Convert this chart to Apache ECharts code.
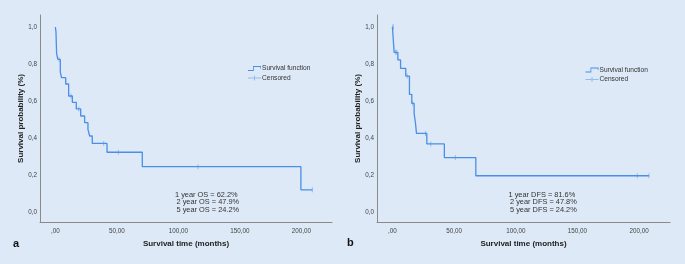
<!DOCTYPE html>
<html>
<head>
<meta charset="utf-8">
<script src="https://cdn.jsdelivr.net/npm/echarts@6/dist/echarts.min.js"></script>
<style>
  html, body { margin: 0; padding: 0; background: #dde9f7; }
  #main { width: 685px; height: 264px; }
</style>
</head>
<body>
<div id="main"></div>
<script>
// panel a: overall survival (step points: time, survival after the drop)
var osTime = [0, 0.5, 1, 2, 4, 5, 8.4, 10.8, 13.8, 17, 20.6, 23.8, 26.5, 27.9, 30, 42, 70.7, 199.7, 209];
var osSurv = [1, 0.973, 0.858, 0.825, 0.758, 0.726, 0.692, 0.627, 0.593, 0.557, 0.519, 0.483, 0.447, 0.411, 0.371, 0.323, 0.245, 0.12, 0.12];
var osCensor = [3, 12.7, 19, 39.3, 51.2, 116, 209];
var osText = ['1 year OS = 62.2%', '2 year OS = 47.9%', '5 year OS = 24.2%'];

// panel b: disease free survival
var dfsTime = [0, 1.4, 4.4, 6.6, 10.8, 13.8, 15.7, 17.6, 18.7, 19.5, 27.9, 42.1, 67.6, 208];
var dfsSurv = [1, 0.863, 0.822, 0.777, 0.735, 0.636, 0.587, 0.533, 0.48, 0.425, 0.368, 0.294, 0.196, 0.196];
var dfsCensor = [0.3, 0.8, 2.5, 3.4, 12, 16.5, 26.8, 31.1, 51, 198.5, 208];
var dfsText = ['1 year DFS = 81.6%', '2 year DFS = 47.8%', '5 year DFS = 24.2%'];

var xTicks = [0, 50, 100, 150, 200];
var yTicks = [0, 0.2, 0.4, 0.6, 0.8, 1.0];

var lineColor = '#4a8ee6';
var censorColor = '#7fb0ee';
var font = 'Liberation Sans';

function stepPoints(t, s) {
    return t.map(function (v, i) { return [v, s[i]]; });
}
// survival value of the step curve at a censored time
function censorPoints(cens, t, s) {
    return cens.map(function (c) {
        var v = s[0];
        for (var i = 0; i < t.length; i++) {
            if (t[i] <= c) v = s[i];
        }
        return [c, v];
    });
}

function xAxisOf(idx) {
    return {
        gridIndex: idx,
        type: 'value',
        min: -12.5,
        max: 225,
        name: 'Survival time (months)',
        nameLocation: 'middle',
        nameGap: 18,
        nameTextStyle: { color: '#222', fontWeight: 'bold', fontSize: 8, fontFamily: font },
        axisLine: { onZero: false, lineStyle: { color: '#8a8a8a', width: 1 } },
        axisTick: { show: false },
        splitLine: { show: false },
        axisLabel: {
            customValues: xTicks,
            color: '#444',
            fontSize: 6.3,
            margin: 6,
            fontFamily: font,
            formatter: function (v) { return v === 0 ? ',00' : v.toFixed(2).replace('.', ','); }
        }
    };
}
function yAxisOf(idx) {
    return {
        gridIndex: idx,
        type: 'value',
        min: -0.054,
        max: 1.065,
        name: 'Survival probability (%)',
        nameLocation: 'middle',
        nameGap: 15,
        nameTextStyle: { color: '#222', fontWeight: 'bold', fontSize: 8, fontFamily: font },
        axisLine: { show: true, onZero: false, lineStyle: { color: '#8a8a8a', width: 1 } },
        axisTick: { show: false },
        splitLine: { show: false },
        axisLabel: {
            customValues: yTicks,
            color: '#444',
            fontSize: 6.3,
            margin: 3,
            fontFamily: font,
            formatter: function (v) { return v.toFixed(1).replace('.', ','); }
        }
    };
}

var stepIcon = 'path://M0,8 H10 V0 H26 V5 H24.4 V1.6 H11.6 V9.6 H0 Z';
var censorIcon = 'path://M0,4.2 H12 V0 H14 V4.2 H26 V5.8 H14 V10 H12 V5.8 H0 Z';

function legendOf(left, top, a, b) {
    return {
        left: left,
        top: top,
        orient: 'vertical',
        itemWidth: 13,
        itemHeight: 5,
        itemGap: 2.5,
        padding: 0,
        textStyle: { color: '#333', fontSize: 6.6, fontFamily: font, padding: [0, 0, 0, -4] },
        data: [
            { name: a, icon: stepIcon, itemStyle: { color: lineColor } },
            { name: b, icon: censorIcon, itemStyle: { color: censorColor } }
        ]
    };
}

function textBlock(left, top, lines) {
    return lines.map(function (t, i) {
        return {
            type: 'text',
            left: left + (i > 0 ? 1.5 : 0),
            top: top + i * 7.9,
            style: { text: t, fill: '#333', fontSize: 7.4, fontFamily: font }
        };
    });
}

var myChart = echarts.init(document.getElementById('main'));
myChart.setOption({
    backgroundColor: '#dde9f7',
    animation: false,
    grid: [
        { left: 40, top: 15, width: 292, height: 207 },
        { left: 377, top: 15, width: 293, height: 207 }
    ],
    xAxis: [xAxisOf(0), xAxisOf(1)],
    yAxis: [yAxisOf(0), yAxisOf(1)],
    legend: [
        legendOf(248, 65, 'Survival function', 'Censored'),
        legendOf(585.5, 66.5, 'Survival function ', 'Censored ')
    ],
    graphic: [].concat(
        textBlock(175, 191, osText),
        textBlock(508.5, 191, dfsText),
        [
            { type: 'text', left: 13, top: 238, style: { text: 'a', fill: '#111', fontWeight: 'bold', fontSize: 11, fontFamily: font } },
            { type: 'text', left: 347, top: 237, style: { text: 'b', fill: '#111', fontWeight: 'bold', fontSize: 11, fontFamily: font } }
        ]
    ),
    series: [
        {
            name: 'Survival function',
            type: 'line',
            step: 'end',
            xAxisIndex: 0, yAxisIndex: 0,
            showSymbol: false,
            lineStyle: { color: lineColor, width: 1.3 },
            itemStyle: { color: lineColor },
            data: stepPoints(osTime, osSurv)
        },
        {
            name: 'Censored',
            type: 'scatter',
            xAxisIndex: 0, yAxisIndex: 0,
            symbol: 'rect',
            symbolSize: [1, 5],
            itemStyle: { color: censorColor },
            data: censorPoints(osCensor, osTime, osSurv)
        },
        {
            name: 'Survival function ',
            type: 'line',
            step: 'end',
            xAxisIndex: 1, yAxisIndex: 1,
            showSymbol: false,
            lineStyle: { color: lineColor, width: 1.3 },
            itemStyle: { color: lineColor },
            data: stepPoints(dfsTime, dfsSurv)
        },
        {
            name: 'Censored ',
            type: 'scatter',
            xAxisIndex: 1, yAxisIndex: 1,
            symbol: 'rect',
            symbolSize: [1, 5],
            itemStyle: { color: censorColor },
            data: censorPoints(dfsCensor, dfsTime, dfsSurv)
        }
    ]
});
</script>
</body>
</html>
